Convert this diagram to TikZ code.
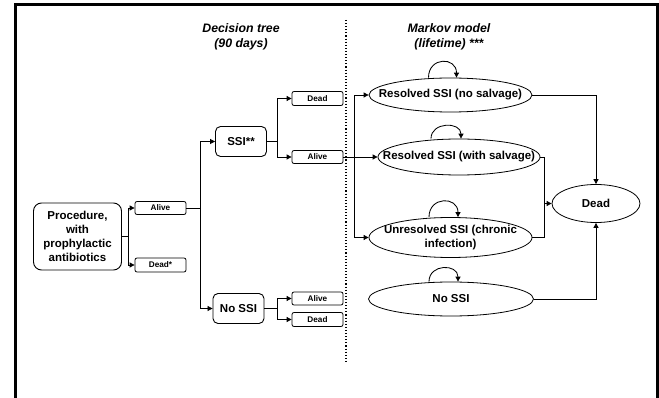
\documentclass[tikz,border=0pt]{standalone}
\usepackage{fontspec}
\setmainfont{Liberation Sans}
\usetikzlibrary{shapes.geometric,arrows.meta,calc}
\begin{document}
\begin{tikzpicture}[x=1pt,y=-1pt,
  every node/.style={inner sep=0pt, text=black},
  rbox/.style={draw, rounded corners=5pt, line width=0.9pt, align=center, font=\fontsize{11.5}{14}\selectfont\bfseries},
  sbox/.style={draw, rounded corners=2pt, line width=0.8pt, minimum width=51pt, font=\fontsize{8.2}{9}\selectfont\bfseries},
  state/.style={draw, ellipse, line width=0.8pt},
  stxt/.style={align=center, font=\fontsize{11.5}{14}\selectfont\bfseries},
  conn/.style={line width=0.85pt, -{Triangle[length=5pt,width=5pt]}},
  plain/.style={line width=0.85pt},
  ttl/.style={font=\fontsize{12.3}{15}\selectfont\bfseries\itshape, align=center}
]
\useasboundingbox (0,0) rectangle (659,398);
\clip (0,0) rectangle (659,398);
\draw[line width=3pt] (15,5) rectangle (657,420);

% titles
\node[ttl] (t1) at (241,36.5) {Decision tree\\(90 days)};
\node[ttl] (t2) at (449,36.5) {Markov model\\(lifetime) ***};

% dotted separator
\coordinate (dtop) at (346,20);
\coordinate (dbot) at (346,362);
\draw[dotted, line width=1.1pt] (dtop) -- (dbot);

% decision tree
\node[rbox, minimum width=88pt, minimum height=67pt, rounded corners=8pt] (proc) at (77.5,236.5) {Procedure,\\with\\prophylactic\\antibiotics};
\node[sbox, minimum height=13pt] (alive1) at (160.5,208) {Alive};
\node[sbox, minimum height=14pt] (dead1) at (160.5,265) {Dead*};
\node[rbox, minimum width=51pt, minimum height=30pt] (ssi) at (241,141.5) {SSI**};
\node[rbox, minimum width=51pt, minimum height=30pt] (nossi) at (238.5,308.5) {No SSI};
\node[sbox, minimum height=14pt] (dead2) at (317.5,98.5) {Dead};
\node[sbox, minimum height=13pt] (alive2) at (317.5,157) {Alive};
\node[sbox, minimum height=13pt] (alive3) at (317.5,298.5) {Alive};
\node[sbox, minimum height=14pt] (dead3) at (317.5,319.5) {Dead};

\coordinate (f1) at ($(proc.east)+(6,0)$);
\draw[plain] (proc.east) -- (f1);
\draw[conn] (f1) |- (alive1.west);
\draw[conn] (f1) |- (dead1.west);

\coordinate (f2) at ($(alive1.east)+(14,0)$);
\draw[plain] (alive1.east) -- (f2);
\draw[conn] (f2) |- (ssi.west);
\draw[conn] (f2) |- (nossi.west);

\coordinate (f3) at ($(ssi.east)+(10,0)$);
\draw[plain] (ssi.east) -- (f3);
\draw[conn] (f3) |- (dead2.west);
\draw[conn] (f3) |- (alive2.west);

\coordinate (f4) at ($(nossi.east)+(13,0)$);
\draw[plain] (nossi.east) -- (f4);
\draw[conn] (f4) |- (alive3.west);
\draw[conn] (f4) |- (dead3.west);

% Markov model
\node[state, minimum width=163pt, minimum height=34pt] (e1) at (450.5,95) {};
\node[stxt] (e1t) at (e1) {Resolved SSI (no salvage)};
\node[state, minimum width=162pt, minimum height=36pt] (e2) at (459,157) {};
\node[stxt] (e2t) at (e2) {Resolved SSI (with salvage)};
\node[state, minimum width=163pt, minimum height=40pt] (e3) at (450.5,237.5) {};
\node[stxt] (e3t) at (e3) {Unresolved SSI (chronic\\infection)};
\node[state, minimum width=165pt, minimum height=34pt] (e4) at (451,299) {};
\node[stxt] (e4t) at (e4) {No SSI};
\node[state, minimum width=88pt, minimum height=38pt] (dd) at (596,203.5) {};
\node[stxt] (ddt) at (dd) {Dead};

\coordinate (f5) at ($(alive2.east)+(11,0)$);
\draw[conn] (alive2.east) -- (e2.west);
\draw[conn] (f5) |- (e1.west);
\draw[conn] (f5) |- (e3.west);

\draw[conn] (e1.east) -| (dd.north);
\draw[conn] (e4.east) -| (dd.south);
\coordinate (f6) at ($(e2.east)+(4,0)$);
\coordinate (f7) at (f6 |- dd.west);
\draw[plain] (e2.east) -- (f6) -- (f6 |- e3.east) -- (e3.east);
\draw[conn] (f7) -- (dd.west);

% self loops
\draw[conn] ($(e1.north)+(-22,0)$) .. controls +(0,-21) and +(0,-21) .. ($(e1.north)+(6,0)$);
\draw[conn] ($(e2.north)+(-28,0)$) .. controls +(0,-17) and +(0,-17) .. ($(e2.north)+(2,0)$);
\draw[conn] ($(e3.north)+(-21.5,0)$) .. controls +(0,-21) and +(0,-21) .. ($(e3.north)+(7.5,0)$);
\draw[conn] ($(e4.north)+(-22,0)$) .. controls +(0,-18) and +(0,-18) .. ($(e4.north)+(7,0)$);
\end{tikzpicture}
\end{document}
